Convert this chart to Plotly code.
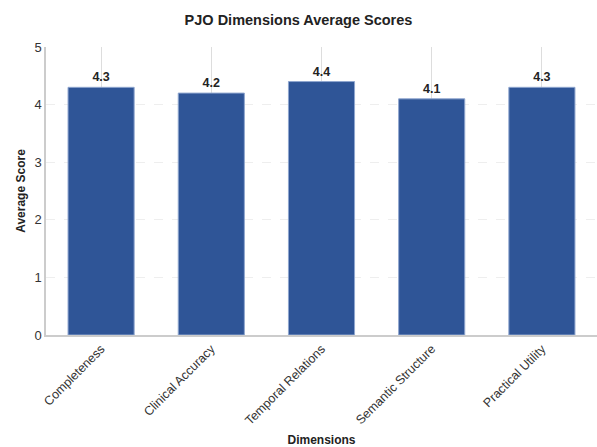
import plotly.graph_objects as go

categories = ["Completeness", "Clinical Accuracy", "Temporal Relations", "Semantic Structure", "Practical Utility"]
scores = [4.3, 4.2, 4.4, 4.1, 4.3]
labels = ["4.3", "4.2", "4.4", "4.1", "4.3"]

fig = go.Figure(go.Bar(
    x=categories, y=scores, text=labels, textposition="outside",
    textfont=dict(family="Liberation Sans, Arial", size=12.5, color="#222222", weight="bold"),
    marker=dict(color="#2F5597", line=dict(color="#8FA6CF", width=1)),
    width=0.6, cliponaxis=False,
))

fig.update_layout(
    width=597, height=447,
    margin=dict(l=46, r=0, t=47, b=112),
    paper_bgcolor="white", plot_bgcolor="white",
    font=dict(family="Liberation Sans, Arial", size=12, color="#333333"),
    title=dict(text="<b>PJO Dimensions Average Scores</b>", x=0.5, xanchor="center",
               y=0.955, yanchor="middle", font=dict(size=14.5, color="#222222")),
    showlegend=False,
    bargap=0.4,
)
fig.update_xaxes(
    title=dict(text="<b>Dimensions</b>", font=dict(size=12, color="#222222"), standoff=12),
    automargin=False,
    tickangle=-45, showgrid=True, gridcolor="#DDDDDD", gridwidth=1,
    showline=True, linecolor="#CCCCCC", linewidth=1.5, ticks="", tickfont=dict(size=12.5, color="#333333"),
)
fig.update_yaxes(
    title=dict(text="<b>Average Score</b>", font=dict(size=12, color="#222222"), standoff=6),
    automargin=False,
    range=[0, 5], dtick=1, showgrid=True, gridcolor="#EEEEEE", griddash="dash", gridwidth=1,
    showline=True, linecolor="#CCCCCC", linewidth=1.5, ticks="", zeroline=False,
    tickfont=dict(size=13, color="#333333"),
)

fig.write_html(
    "out.html",
    config={"displayModeBar": False},
    post_script="document.body.style.margin='0';document.body.style.overflow='hidden';",
)
